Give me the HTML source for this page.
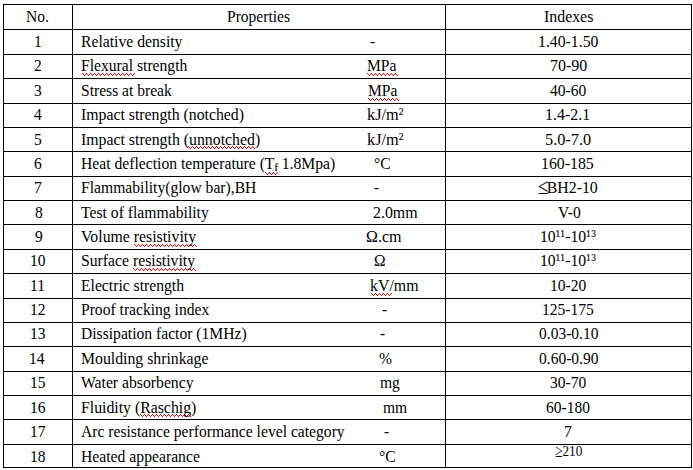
<!DOCTYPE html><html><head><meta charset='utf-8'><title>Properties table</title><style>

html,body{margin:0;padding:0;background:#fff}
body{width:693px;height:470px;position:relative;overflow:hidden;font-family:"Liberation Serif",serif;font-size:16px;color:#000}
.h{position:absolute;left:3px;width:689px;height:1px;background:#000}
.v{position:absolute;top:4px;height:464px;width:1px;background:#000}
.t{position:absolute;white-space:pre;line-height:20px;height:20px;transform-origin:0 0}
.z{position:absolute;height:3px;overflow:hidden;display:block}
sup{-webkit-text-stroke:0.15px #000;letter-spacing:0.4px;font-size:9.5px;vertical-align:baseline;position:relative;top:-5px;line-height:0}
sub{-webkit-text-stroke:0.2px #000;font-size:10.5px;vertical-align:baseline;position:relative;top:2px;line-height:0}
.ge{font-size:13.6px;position:relative;top:-6px}
.ge i{font-style:normal;display:inline-block;font-size:14px;transform:scaleY(1.32);transform-origin:50% 78%;position:relative;top:2px}
.le{display:inline-block;font-size:19px;line-height:16px;transform:scaleY(1.18);transform-origin:50% 78%;margin-right:-1.5px;position:relative;top:0.5px}

</style></head><body>
<svg width='0' height='0' style='position:absolute'><defs><pattern id='zz' width='4' height='3' patternUnits='userSpaceOnUse'><path d='M0 0h1v1h-1zM1 1h1v1h-1zM2 2h1v1h-1zM3 1h1v1h-1z' fill='#ff0000' shape-rendering='crispEdges'/></pattern></defs></svg>
<svg class='z' style='left:82px;top:73px;width:53px' width='53' height='3'><rect width='100%' height='3' fill='url(#zz)'/></svg>
<svg class='z' style='left:367px;top:73px;width:31px' width='31' height='3'><rect width='100%' height='3' fill='url(#zz)'/></svg>
<svg class='z' style='left:368px;top:98px;width:31px' width='31' height='3'><rect width='100%' height='3' fill='url(#zz)'/></svg>
<svg class='z' style='left:188px;top:146px;width:67px' width='67' height='3'><rect width='100%' height='3' fill='url(#zz)'/></svg>
<svg class='z' style='left:265px;top:172px;width:13px' width='13' height='3'><rect width='100%' height='3' fill='url(#zz)'/></svg>
<svg class='z' style='left:134px;top:244px;width:63px' width='63' height='3'><rect width='100%' height='3' fill='url(#zz)'/></svg>
<svg class='z' style='left:133px;top:268px;width:63px' width='63' height='3'><rect width='100%' height='3' fill='url(#zz)'/></svg>
<svg class='z' style='left:371px;top:293px;width:21px' width='21' height='3'><rect width='100%' height='3' fill='url(#zz)'/></svg>
<svg class='z' style='left:140px;top:414px;width:51px' width='51' height='3'><rect width='100%' height='3' fill='url(#zz)'/></svg>
<div class='h' style='top:4px'></div>
<div class='h' style='top:29px'></div>
<div class='h' style='top:54px'></div>
<div class='h' style='top:78px'></div>
<div class='h' style='top:103px'></div>
<div class='h' style='top:127px'></div>
<div class='h' style='top:151px'></div>
<div class='h' style='top:176px'></div>
<div class='h' style='top:200px'></div>
<div class='h' style='top:224px'></div>
<div class='h' style='top:249px'></div>
<div class='h' style='top:273px'></div>
<div class='h' style='top:298px'></div>
<div class='h' style='top:322px'></div>
<div class='h' style='top:346px'></div>
<div class='h' style='top:371px'></div>
<div class='h' style='top:395px'></div>
<div class='h' style='top:419px'></div>
<div class='h' style='top:444px'></div>
<div class='h' style='top:467px'></div>
<div class='v' style='left:3px'></div>
<div class='v' style='left:72px'></div>
<div class='v' style='left:445px'></div>
<div class='v' style='left:691px'></div>
<div class='t' id='i0' style='top:7px;left:26.00px;transform:scaleX(0.9700)'>No.</div>
<div class='t' id='i1' style='top:7px;left:226.50px;transform:scaleX(0.9700)'>Properties</div>
<div class='t' id='i2' style='top:7px;left:543.70px;transform:scaleX(0.9916)'>Indexes</div>
<div class='t' id='i3' style='top:32px;left:34.00px;transform:scaleX(0.9700)'>1</div>
<div class='t' id='i4' style='top:32px;left:81.40px;transform:scaleX(0.9799)'>Relative density</div>
<div class='t' id='i5' style='top:32px;left:370.10px;transform:scaleX(0.9700)'>-</div>
<div class='t' id='i6' style='top:32px;left:537.60px;transform:scaleX(0.9845)'>1.40-1.50</div>
<div class='t' id='i7' style='top:56px;left:34.00px;transform:scaleX(0.9700)'>2</div>
<div class='t' id='i8' style='top:56px;left:81.40px;transform:scaleX(0.9763)'>Flexural strength</div>
<div class='t' id='i9' style='top:56px;left:367.00px;transform:scaleX(0.9700)'>MPa</div>
<div class='t' id='i10' style='top:56px;left:550.00px;transform:scaleX(0.9991)'>70-90</div>
<div class='t' id='i11' style='top:81px;left:34.00px;transform:scaleX(0.9700)'>3</div>
<div class='t' id='i12' style='top:81px;left:81.40px;transform:scaleX(0.9727)'>Stress at break</div>
<div class='t' id='i13' style='top:81px;left:368.00px;transform:scaleX(0.9700)'>MPa</div>
<div class='t' id='i14' style='top:81px;left:550.00px;transform:scaleX(0.9717)'>40-60</div>
<div class='t' id='i15' style='top:105px;left:34.00px;transform:scaleX(0.9700)'>4</div>
<div class='t' id='i16' style='top:105px;left:81.40px;transform:scaleX(0.9863)'>Impact strength (notched)</div>
<div class='t' id='i17' style='top:105px;left:366.70px;transform:scaleX(1.0200)'>kJ/m<sup>2</sup></div>
<div class='t' id='i18' style='top:105px;left:545.00px;transform:scaleX(0.9948)'>1.4-2.1</div>
<div class='t' id='i19' style='top:130px;left:34.00px;transform:scaleX(0.9700)'>5</div>
<div class='t' id='i20' style='top:130px;left:81.40px;transform:scaleX(0.9884)'>Impact strength (unnotched)</div>
<div class='t' id='i21' style='top:130px;left:366.70px;transform:scaleX(1.0200)'>kJ/m<sup>2</sup></div>
<div class='t' id='i22' style='top:130px;left:545.00px;transform:scaleX(1.0174)'>5.0-7.0</div>
<div class='t' id='i23' style='top:154px;left:34.00px;transform:scaleX(0.9700)'>6</div>
<div class='t' id='i24' style='top:154px;left:81.40px;transform:scaleX(0.9784)'>Heat deflection temperature (T<sub>f</sub> 1.8Mpa)</div>
<div class='t' id='i25' style='top:154px;left:374.30px;transform:scaleX(0.9700)'>°C</div>
<div class='t' id='i26' style='top:154px;left:541.00px;transform:scaleX(0.9898)'>160-185</div>
<div class='t' id='i27' style='top:178px;left:34.00px;transform:scaleX(0.9700)'>7</div>
<div class='t' id='i28' style='top:178px;left:81.40px;transform:scaleX(0.9770)'>Flammability(glow bar),BH</div>
<div class='t' id='i29' style='top:178px;left:373.90px;transform:scaleX(0.9700)'>-</div>
<div class='t' id='i30' style='top:178px;left:538.00px;transform:scaleX(0.9880)'><span class='le'>≤</span>BH2-10</div>
<div class='t' id='i31' style='top:203px;left:35.00px;transform:scaleX(0.9700)'>8</div>
<div class='t' id='i32' style='top:203px;left:81.40px;transform:scaleX(0.9799)'>Test of flammability</div>
<div class='t' id='i33' style='top:203px;left:373.00px;transform:scaleX(0.9931)'>2.0mm</div>
<div class='t' id='i34' style='top:203px;left:558.00px;transform:scaleX(0.9700)'>V-0</div>
<div class='t' id='i35' style='top:227px;left:35.00px;transform:scaleX(0.9700)'>9</div>
<div class='t' id='i36' style='top:227px;left:81.40px;transform:scaleX(0.9867)'>Volume resistivity</div>
<div class='t' id='i37' style='top:227px;left:365.80px;transform:scaleX(1.0010)'>Ω.cm</div>
<div class='t' id='i38' style='top:227px;left:540.40px;transform:scaleX(0.9755)'>10<sup>11</sup>-10<sup>13</sup></div>
<div class='t' id='i39' style='top:251px;left:30.00px;transform:scaleX(0.9700)'>10</div>
<div class='t' id='i40' style='top:251px;left:81.40px;transform:scaleX(0.9837)'>Surface resistivity</div>
<div class='t' id='i41' style='top:251px;left:374.40px;transform:scaleX(0.9700)'>Ω</div>
<div class='t' id='i42' style='top:251px;left:540.40px;transform:scaleX(0.9755)'>10<sup>11</sup>-10<sup>13</sup></div>
<div class='t' id='i43' style='top:276px;left:30.00px;transform:scaleX(0.9700)'>11</div>
<div class='t' id='i44' style='top:276px;left:81.40px;transform:scaleX(0.9786)'>Electric strength</div>
<div class='t' id='i45' style='top:276px;left:369.90px;transform:scaleX(0.9919)'>kV/mm</div>
<div class='t' id='i46' style='top:276px;left:550.00px;transform:scaleX(0.9700)'>10-20</div>
<div class='t' id='i47' style='top:300px;left:30.00px;transform:scaleX(0.9700)'>12</div>
<div class='t' id='i48' style='top:300px;left:81.40px;transform:scaleX(0.9749)'>Proof tracking index</div>
<div class='t' id='i49' style='top:300px;left:382.10px;transform:scaleX(0.9700)'>-</div>
<div class='t' id='i50' style='top:300px;left:542.00px;transform:scaleX(0.9700)'>125-175</div>
<div class='t' id='i51' style='top:324px;left:30.00px;transform:scaleX(0.9700)'>13</div>
<div class='t' id='i52' style='top:324px;left:81.40px;transform:scaleX(0.9760)'>Dissipation factor (1MHz)</div>
<div class='t' id='i53' style='top:324px;left:380.10px;transform:scaleX(0.9700)'>-</div>
<div class='t' id='i54' style='top:324px;left:539.00px;transform:scaleX(0.9700)'>0.03-0.10</div>
<div class='t' id='i55' style='top:349px;left:29.00px;transform:scaleX(0.9700)'>14</div>
<div class='t' id='i56' style='top:349px;left:81.40px;transform:scaleX(0.9860)'>Moulding shrinkage</div>
<div class='t' id='i57' style='top:349px;left:379.40px;transform:scaleX(0.9700)'>%</div>
<div class='t' id='i58' style='top:349px;left:539.00px;transform:scaleX(0.9700)'>0.60-0.90</div>
<div class='t' id='i59' style='top:373px;left:30.00px;transform:scaleX(0.9700)'>15</div>
<div class='t' id='i60' style='top:373px;left:81.40px;transform:scaleX(0.9815)'>Water absorbency</div>
<div class='t' id='i61' style='top:373px;left:380.40px;transform:scaleX(0.9700)'>mg</div>
<div class='t' id='i62' style='top:373px;left:550.00px;transform:scaleX(0.9700)'>30-70</div>
<div class='t' id='i63' style='top:398px;left:30.00px;transform:scaleX(0.9700)'>16</div>
<div class='t' id='i64' style='top:398px;left:81.40px;transform:scaleX(0.9865)'>Fluidity (Raschig)</div>
<div class='t' id='i65' style='top:398px;left:383.00px;transform:scaleX(0.9700)'>mm</div>
<div class='t' id='i66' style='top:398px;left:546.00px;transform:scaleX(0.9700)'>60-180</div>
<div class='t' id='i67' style='top:422px;left:30.00px;transform:scaleX(0.9700)'>17</div>
<div class='t' id='i68' style='top:422px;left:81.40px;transform:scaleX(0.9762)'>Arc resistance performance level category</div>
<div class='t' id='i69' style='top:422px;left:383.90px;transform:scaleX(0.9700)'>-</div>
<div class='t' id='i70' style='top:422px;left:564.00px;transform:scaleX(0.9700)'>7</div>
<div class='t' id='i71' style='top:447px;left:30.00px;transform:scaleX(0.9700)'>18</div>
<div class='t' id='i72' style='top:447px;left:81.40px;transform:scaleX(0.9803)'>Heated appearance</div>
<div class='t' id='i73' style='top:447px;left:379.00px;transform:scaleX(0.9700)'>°C</div>
<div class='t' id='i74' style='top:447px;left:555.00px;transform:scaleX(0.9700)'><span class='ge'><i>≥</i>210</span></div>
</body></html>
